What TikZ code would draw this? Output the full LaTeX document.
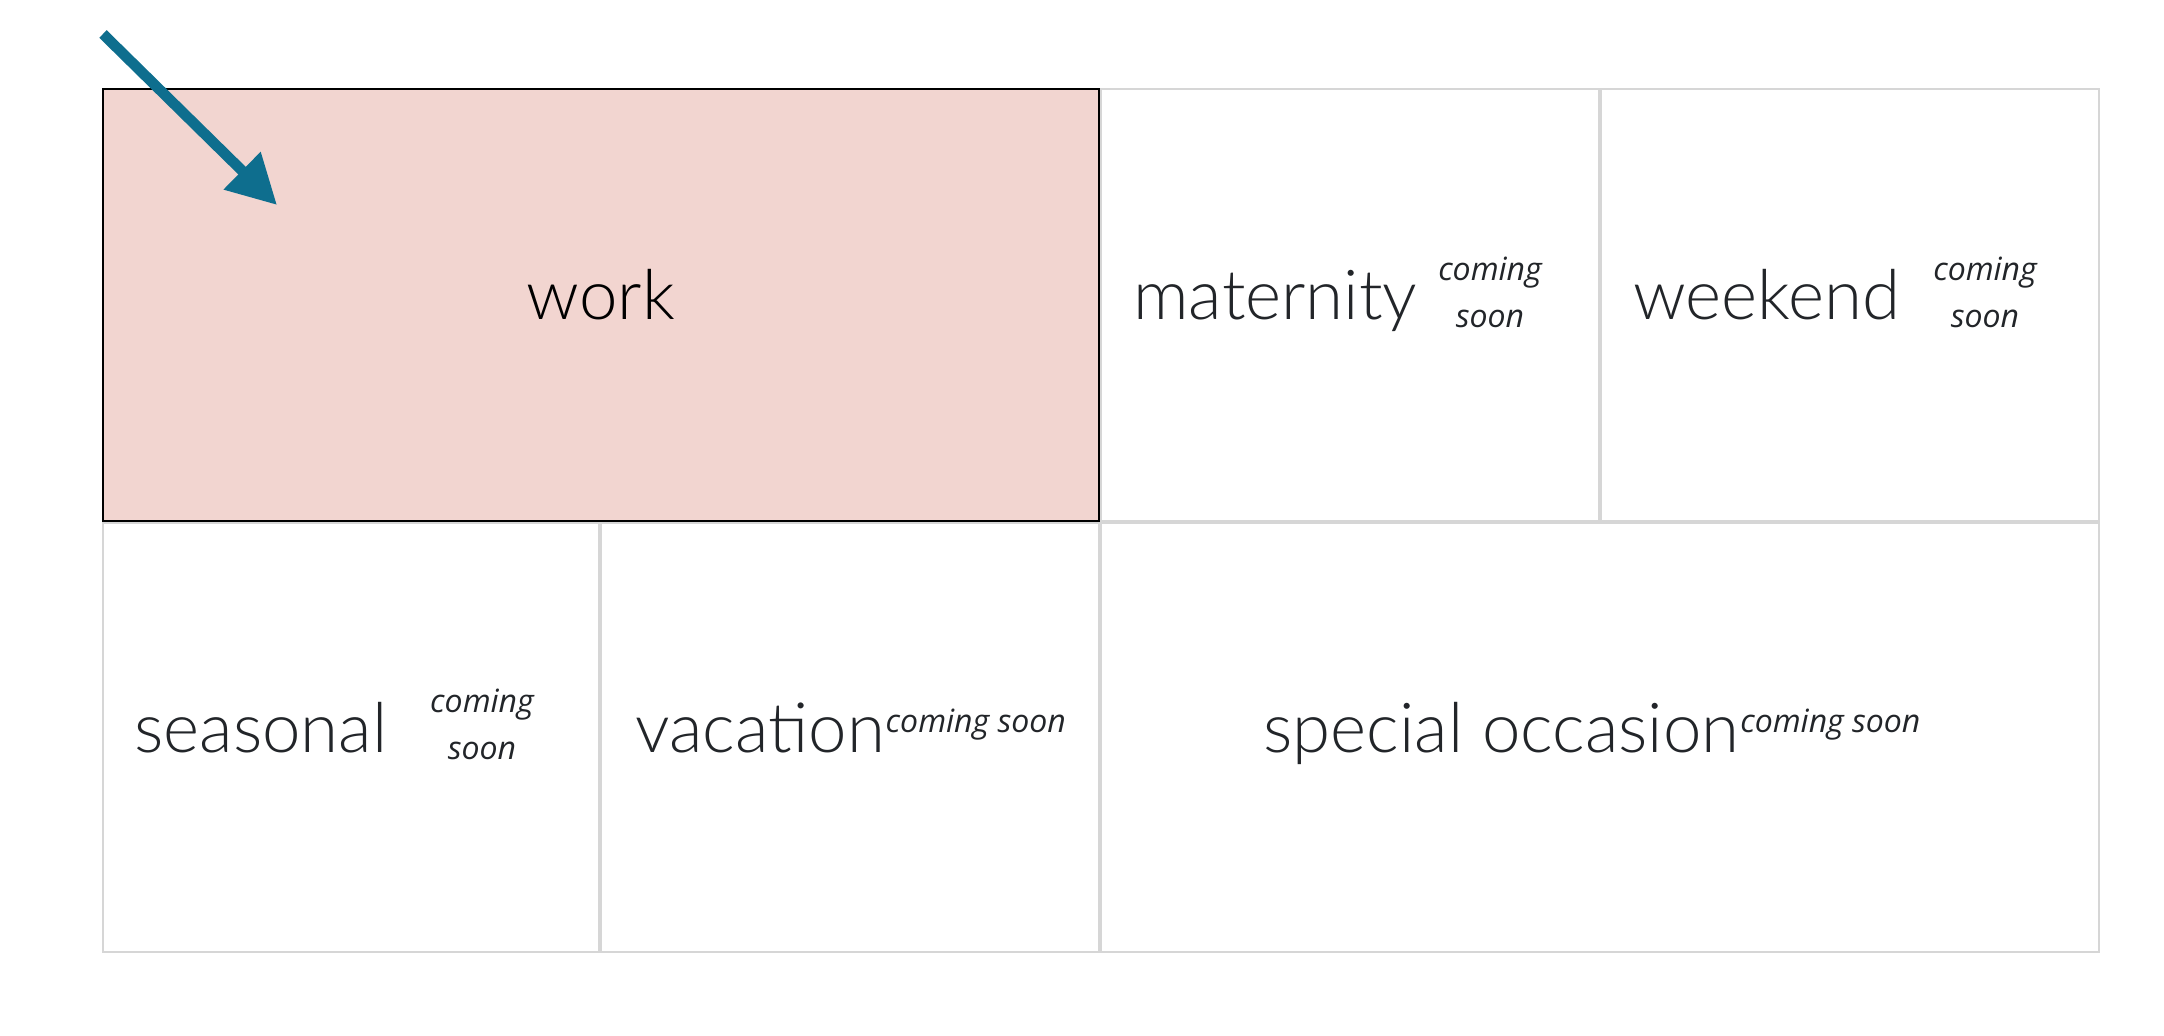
\documentclass[tikz,border=0pt]{standalone}
\usepackage{fontspec}
\usetikzlibrary{arrows.meta}
\newfontfamily\labelfont{Lato}[UprightFont={* Light}]
\newfontfamily\notefont{Open Sans}
\definecolor{workfill}{HTML}{F2D5D0}
\definecolor{gridgray}{HTML}{D6D6D6}
\definecolor{arrowblue}{HTML}{0E6E8E}
\definecolor{textdark}{HTML}{222529}
\tikzset{
  cell/.style={draw=gridgray, line width=1.2pt},
  workcell/.style={draw=black, line width=1.1pt, fill=workfill},
  biglabel/.style={font=\labelfont\fontsize{34.5}{40}\selectfont, text=textdark, inner sep=0pt, anchor=base},
  smallnote/.style={font=\notefont\itshape\fontsize{16}{23.5}\selectfont, text=textdark, inner sep=0pt, align=center},
  pointer/.style={draw=arrowblue, line width=5.3pt, -{Triangle[length=24.5pt,width=25pt]}, arrowblue}
}
\begin{document}
\begin{tikzpicture}[x=0.5pt,y=-0.5pt]
\useasboundingbox (0,0) rectangle (2164,1036);
\fill[white] (0,0) rectangle (2164,1036);
% cells
\draw[cell] (1101,89) rectangle (1599,521);
\draw[cell] (1601,89) rectangle (2099,521);
\draw[cell] (103,523) rectangle (599,952);
\draw[cell] (601,523) rectangle (1099,952);
\draw[cell] (1101,523) rectangle (2099,952);
\draw[workcell] (103,89) rectangle (1099,521);
% labels
\node[biglabel, text=black] (work) at (601,320) {work};
\node[biglabel, anchor=base west] (maternity) at (1133,320) {maternity};
\node[smallnote] (maternitynote) at (1490,292) {coming\\soon};
\node[biglabel, anchor=base west] (weekend) at (1633,320) {weekend};
\node[smallnote] (weekendnote) at (1985,292) {coming\\soon};
\node[biglabel, anchor=base west] (seasonal) at (134,753) {seasonal};
\node[smallnote] (seasonalnote) at (482,724) {coming\\soon};
\node[biglabel, anchor=base west] (vacation) at (635,753) {vacation};
\node[smallnote, anchor=base west] (vacationnote) at (vacation.base east) [yshift=10pt] {coming soon};
\node[biglabel, anchor=base west] (special) at (1263,753) {special occasion};
\node[smallnote, anchor=base west] (specialnote) at (special.base east) [yshift=10pt] {coming soon};
% arrow
\coordinate (arrowstart) at (103,34);
\coordinate (arrowend) at (277,205);
\draw[pointer] (arrowstart) -- (arrowend);
\end{tikzpicture}
\end{document}
